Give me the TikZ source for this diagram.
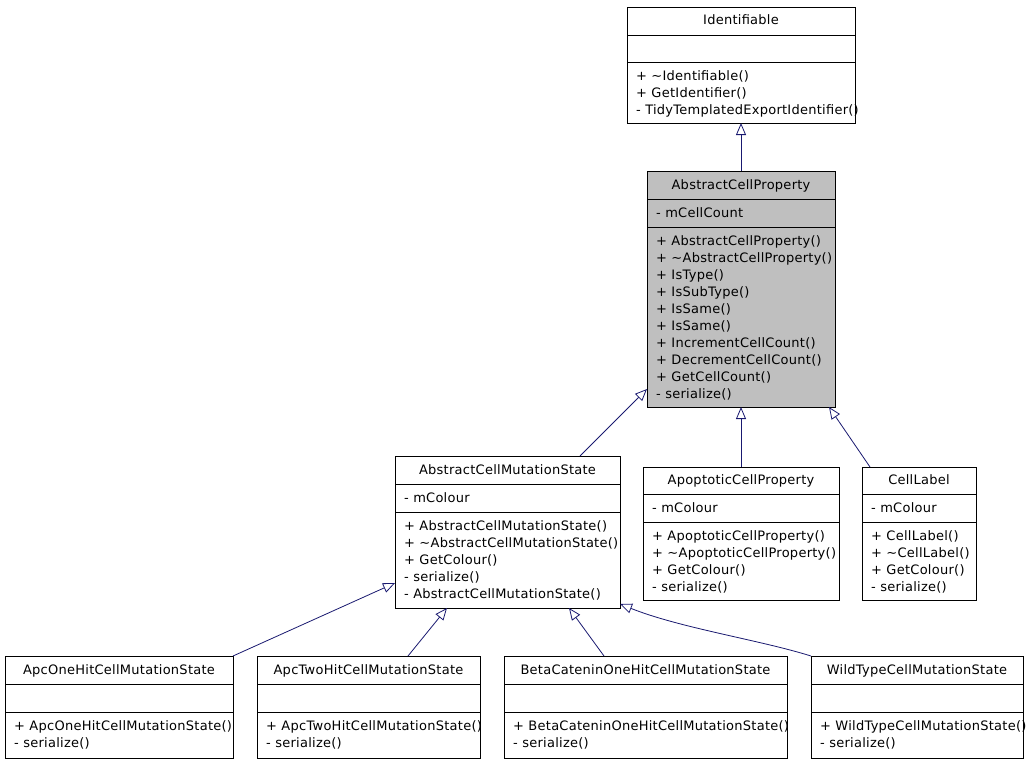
\documentclass[tikz,border=0pt]{standalone}
\usepackage{fontspec}
\setmainfont{DejaVu Sans}[LetterSpace=2]
\usetikzlibrary{arrows.meta}
\definecolor{edgeblue}{HTML}{191970}
\definecolor{boxgray}{HTML}{BFBFBF}
\newcommand\classbox[8]{% name, x1, y1, x2, y2, div1, div2, fill
  \node[umlbox, fill=#8, minimum width={(#4-#2)*1pt}, minimum height={(#5-#3)*1pt}, anchor=north west] (#1) at (#2,#3) {};
  \draw[boxline] (#2,#6) -- (#4,#6);
  \draw[boxline] (#2,#7) -- (#4,#7);
}
\newcommand\classlines[4]{% prefix, x, first baseline, list
  \foreach \t [count=\i] in {#4} {\node[txt, anchor=base west] (#1-\i) at (#2, {#3+17*(\i-1)}) {\t};}
}
\newcommand\tl{\textasciitilde}
\begin{document}
\begin{tikzpicture}[x=1pt,y=-1pt,
  umlbox/.style={draw=black, line width=1pt, inner sep=0pt, outer sep=0pt},
  boxline/.style={draw=black, line width=1pt},
  txt/.style={inner sep=0pt, font=\fontsize{13}{17}\selectfont},
  ttl/.style={inner sep=0pt, font=\fontsize{13}{17}\selectfont, anchor=base},
  inh/.style={draw=edgeblue, line width=0.8pt, -{Triangle[open, length=12pt, width=10pt]}}]
\fill[white] (0,0) rectangle (1029,763);
\useasboundingbox (0,0) rectangle (1029,763);

% Identifiable
\classbox{ident}{627}{7}{855}{123}{35}{62}{white}
\node[ttl] (ident-t) at (741,24) {Identifiable};
\classlines{identm}{636}{80}{+ \tl Identifiable(), + GetIdentifier(), - TidyTemplatedExportIdentifier()}

% AbstractCellProperty
\classbox{acp}{647}{171}{835}{407}{199}{227}{boxgray}
\node[ttl] (acp-t) at (741,189) {AbstractCellProperty};
\classlines{acpa}{656}{217}{- mCellCount}
\classlines{acpm}{656}{245}{+ AbstractCellProperty(), + \tl AbstractCellProperty(), + IsType(), + IsSubType(), + IsSame(), + IsSame(), + IncrementCellCount(), + DecrementCellCount(), + GetCellCount(), - serialize()}

% AbstractCellMutationState
\classbox{acms}{395}{456}{620}{608}{484}{512}{white}
\node[ttl] (acms-t) at (507.5,474) {AbstractCellMutationState};
\classlines{acmsa}{404}{502}{- mColour}
\classlines{acmsm}{404}{530}{+ AbstractCellMutationState(), + \tl AbstractCellMutationState(), + GetColour(), - serialize(), - AbstractCellMutationState()}

% ApoptoticCellProperty
\classbox{apop}{643}{467}{839}{600}{494}{522}{white}
\node[ttl] (apop-t) at (741,484) {ApoptoticCellProperty};
\classlines{apopa}{652}{512}{- mColour}
\classlines{apopm}{652}{540}{+ ApoptoticCellProperty(), + \tl ApoptoticCellProperty(), + GetColour(), - serialize()}

% CellLabel
\classbox{cl}{862}{467}{976}{600}{494}{522}{white}
\node[ttl] (cl-t) at (919,484) {CellLabel};
\classlines{cla}{871}{512}{- mColour}
\classlines{clm}{871}{540}{+ CellLabel(), + \tl CellLabel(), + GetColour(), - serialize()}

% Bottom row
\classbox{apc1}{5}{656}{233}{758}{684}{712}{white}
\node[ttl] (apc1-t) at (119,674) {ApcOneHitCellMutationState};
\classlines{apc1m}{14}{730}{+ ApcOneHitCellMutationState(), - serialize()}

\classbox{apc2}{257}{656}{480}{758}{684}{712}{white}
\node[ttl] (apc2-t) at (368.5,674) {ApcTwoHitCellMutationState};
\classlines{apc2m}{266}{730}{+ ApcTwoHitCellMutationState(), - serialize()}

\classbox{beta}{504}{656}{787}{758}{684}{712}{white}
\node[ttl] (beta-t) at (645.5,674) {BetaCateninOneHitCellMutationState};
\classlines{betam}{513}{730}{+ BetaCateninOneHitCellMutationState(), - serialize()}

\classbox{wild}{811}{656}{1023}{758}{684}{712}{white}
\node[ttl] (wild-t) at (917,674) {WildTypeCellMutationState};
\classlines{wildm}{820}{730}{+ WildTypeCellMutationState(), - serialize()}

% Inheritance edges
\draw[inh] (acp.north) -- (ident.south);
\draw[inh] ([xshift=72.5pt]acms.north) -- ([yshift=18pt]acp.south west);
\draw[inh] (apop.north) -- (acp.south);
\draw[inh] ([xshift=-49pt]cl.north) -- ([xshift=-6pt]acp.south east);
\draw[inh] (apc1.north east) -- ([yshift=25pt]acms.south west);
\draw[inh] ([xshift=39.5pt]apc2.north) -- ([xshift=-60.5pt]acms.south);
\draw[inh] ([xshift=-41.5pt]beta.north) -- ([xshift=61.5pt]acms.south);
\draw[inh] (wild.north west) .. controls (760,640) and (680,628) .. ([yshift=4pt]acms.south east);
\end{tikzpicture}
\end{document}
